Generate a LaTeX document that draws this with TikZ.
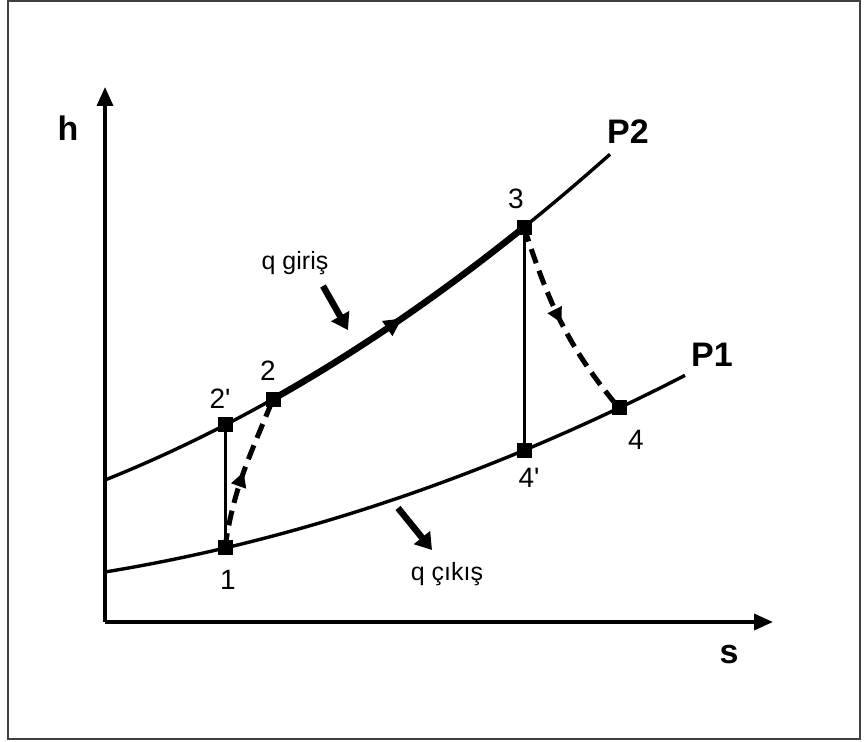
\documentclass[tikz,border=0pt]{standalone}
\usepackage{fontspec}
\setmainfont{Liberation Sans}
\usetikzlibrary{arrows.meta,decorations.markings}
\begin{document}
\begin{tikzpicture}[x=1pt,y=1pt,
  declare function={ftwo(\t)=261+0.4001*(\t-105)+4.85*((\t-105)/100)^2;
                    fone(\t)=169+0.16374*(\t-105)+3.022*((\t-105)/100)^2;},
  axisline/.style={line width=3.5pt,-{Triangle[length=19pt,width=16pt]}},
  isobar/.style={line width=3.4pt},
  vline/.style={line width=3pt},
  proc/.style={line width=6.5pt,postaction={decorate},
    decoration={markings,mark=at position 0.5 with {\arrow{Triangle[length=18pt,width=17pt]}}}},
  dashproc/.style={line width=5pt,dash pattern=on 15pt off 8pt,postaction={decorate},
    decoration={markings,mark=at position 0.5 with {\arrow[solid]{Triangle[length=15pt,width=15pt]}}}},
  pt/.style={fill=black,minimum size=15pt,inner sep=0pt,rectangle},
  biglbl/.style={font=\bfseries\fontsize{34}{36}\selectfont},
  numlbl/.style={font=\fontsize{28}{30}\selectfont},
  qlbl/.style={font=\fontsize{25}{27}\selectfont},
  heatarrow/.style={line width=6.5pt,-{Triangle[length=16pt,width=20pt]}}]
\useasboundingbox (0,0) rectangle (864,741);
\fill[white] (0,0) rectangle (864,741);
\draw[black!75,line width=2pt] (8,2) rectangle (860,739.5);
% axes
\coordinate (O) at (105,119);
\coordinate (ytip) at (105,654);
\coordinate (xtip) at (773,119);
\draw[axisline] (O) -- (ytip);
\draw[axisline] (O) -- (xtip);
\node[biglbl] (hl) at (68,613) {h};
\node[biglbl] (sl) at (729,86) {s};
% isobars
\draw[isobar] plot[domain=105:610,samples=80,smooth] (\x,{ftwo(\x)});
\draw[isobar] plot[domain=105:685,samples=80,smooth] (\x,{fone(\x)});
% points
\node[pt] (n1) at (225,{fone(225)}) {};
\node[pt] (n2p) at (225,{ftwo(225)}) {};
\node[pt] (n2) at (273,{ftwo(273)}) {};
\node[pt] (n3) at (524,{ftwo(524)}) {};
\node[pt] (n4p) at (524,{fone(524)}) {};
\node[pt] (n4) at (619,{fone(619)}) {};
% vertical isentropic lines
\draw[vline] (n1.center) -- (n2p.center);
\draw[vline] (n3.center) -- (n4p.center);
% processes
\draw[proc] plot[domain=273:524,samples=40,smooth] (\x,{ftwo(\x)});
\draw[dashproc] (n1.center) to[out=82,in=248] (n2.center);
\draw[dashproc] (n3.center) to[out=-72,in=130] (n4.center);
% labels
\node[biglbl] (lp2) at (628,609) {P2};
\node[biglbl] (lp1) at (712,386) {P1};
\node[numlbl] (l2p) at (220,342) {2\textquotesingle};
\node[numlbl] (l2) at (268,370) {2};
\node[numlbl] (l3) at (516,542) {3};
\node[numlbl] (l1) at (228,161) {1};
\node[numlbl] (l4p) at (529,263) {4\textquotesingle};
\node[numlbl] (l4) at (636,301) {4};
\node[qlbl] (qin) at (295,478) {q giriş};
\node[qlbl] (qout) at (447,167) {q çıkış};
\coordinate (qina) at (323,455);
\coordinate (qinb) at (348,411);
\coordinate (qouta) at (398,233);
\coordinate (qoutb) at (432,191);
\draw[heatarrow] (qina) -- (qinb);
\draw[heatarrow] (qouta) -- (qoutb);
\end{tikzpicture}
\end{document}
